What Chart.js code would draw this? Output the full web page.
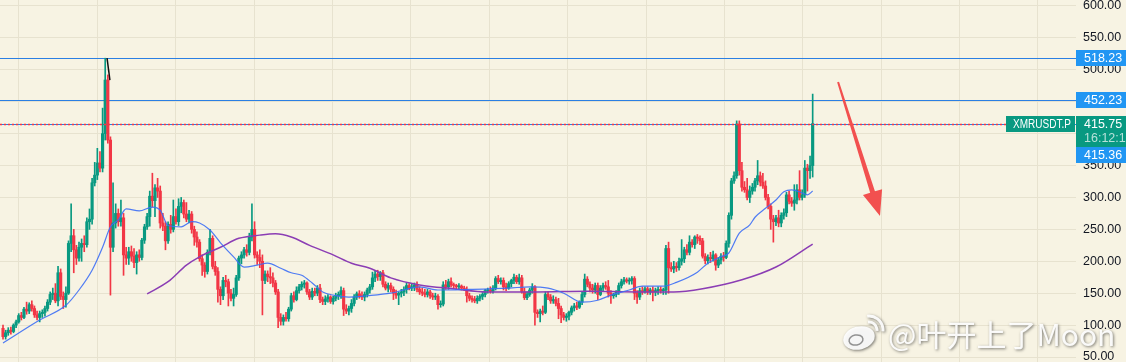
<!DOCTYPE html>
<html>
<head>
<meta charset="utf-8">
<script src="https://cdn.jsdelivr.net/npm/chart.js@4.4.1/dist/chart.umd.min.js"></script>
<style>
  html, body { margin: 0; padding: 0; background: #f7f3e3; }
  #wrap { width: 1126px; height: 362px; }
</style>
</head>
<body>
<div id="wrap"><canvas id="myChart" width="1126" height="362"></canvas></div>
<script>
// XMRUSDT.P daily candles
const candleOpen = [
  95,82,88,92,90,100,105,115,112,125, 122,132,126,116,112,118,120,126,136,148,
  150,138,182,145,140,150,228,240,218,205, 222,228,226,262,266,323,335,354,346,400,
  484,390,222,260,275,262,268,210,205,215, 208,198,210,206,233,254,270,302,295,315,
  310,260,255,232,258,250,270,262,286,292, 274,266,274,250,238,230,204,194,184,214,
  236,192,184,156,146,170,168,150,142,148, 174,205,210,218,214,238,250,210,206,200,
  170,180,176,174,166,152,112,106,112,110, 125,146,140,154,160,164,166,152,144,153,
  150,158,140,137,141,144,137,142,146,148, 154,125,122,126,134,144,149,146,144,148,
  155,160,174,180,176,182,164,158,162,156, 150,147,150,152,156,162,158,160,163,156,
  152,150,148,152,146,144,145,132,133,163, 160,168,163,162,160,161,158,156,146,142,
  140,138,142,145,148,154,155,153,158,173, 168,170,160,158,165,170,175,168,174,152,
  143,148,155,160,120,118,122,120,148,144, 138,140,134,126,116,112,114,120,127,130,
  128,136,148,172,164,158,155,162,148,158, 162,160,150,146,148,152,162,168,171,169,
  170,173,150,144,154,152,157,152,155,152, 154,156,154,155,220,190,188,192,190,200,
  204,218,214,230,226,238,236,232,208,201, 206,204,210,194,202,208,206,228,272,326,
  334,415,342,316,312,300,310,316,326,334, 324,318,300,286,266,262,268,260,272,276,
  304,294,291,296,312,300,304,346,342,350
];
const candleHigh = [
  100,92,96,97,102,108,118,120,128,136, 135,138,130,122,122,124,130,140,152,158,
  165,192,188,152,160,232,290,250,225,230, 235,240,268,282,330,355,377,372,440,518.2,
  492,395,323,290,282,296,275,222,222,224, 220,215,218,236,258,275,310,338,320,330,
  318,275,262,262,272,296,282,298,300,296, 292,280,278,255,246,234,210,198,218,250,
  240,200,190,160,175,178,172,156,158,178, 208,215,222,226,244,290,262,215,218,210,
  185,185,190,182,170,156,118,116,120,128, 150,152,160,164,168,170,168,156,158,158,
  162,164,144,146,148,146,145,150,152,160, 158,132,130,140,148,152,154,152,152,158,
  164,183,185,186,184,186,168,166,166,160, 155,152,156,160,166,165,164,166,168,160,
  158,156,156,155,150,150,148,138,168,170, 172,174,166,164,165,163,161,160,150,146,
  145,146,148,151,156,158,160,162,176,178, 174,174,166,168,172,180,178,180,178,158,
  152,158,165,162,124,125,130,152,152,148, 146,144,142,130,120,118,122,130,134,136,
  138,152,180,176,168,164,166,166,162,166, 168,170,154,150,154,166,172,175,174,174,
  176,176,154,158,160,160,160,158,160,158, 160,160,158,225,230,198,200,198,205,234,
  222,226,240,234,240,242,240,236,212,210, 214,216,212,206,212,214,232,276,330,340,
  420,420,355,325,330,318,322,330,358,340, 338,326,305,290,272,272,280,276,282,308,
  310,300,320,320,342,312,358,352,365,462
];
const candleLow = [
  78,78,84,86,88,96,103,108,110,117, 118,122,112,108,105,112,114,122,132,140,
  135,130,140,126,128,148,215,182,195,200, 200,215,222,250,258,318,328,340,340,390,
  385,147,215,252,255,255,178,195,195,200, 190,180,200,202,228,250,255,285,270,300,
  252,248,218,228,244,246,258,256,276,268, 262,260,244,225,222,200,178,175,180,210,
  188,178,136,132,140,160,130,138,130,145, 170,196,205,208,210,232,205,195,190,116,
  165,168,165,160,148,96,100,100,106,106, 122,136,138,150,155,158,148,140,140,146,
  146,135,132,132,136,134,133,138,140,142, 115,118,116,120,130,140,142,140,138,144,
  150,156,168,170,170,160,155,152,152,140, 142,132,144,146,150,155,154,154,152,148,
  146,144,144,142,140,140,125,128,130,156, 156,160,158,156,156,155,154,136,138,136,
  135,134,138,140,144,150,150,150,155,165, 164,155,154,156,160,165,165,164,150,140,
  140,145,150,100,112,105,116,118,140,134, 134,130,110,104,108,106,108,116,122,124,
  126,132,144,160,152,150,150,140,146,154, 156,144,134,142,144,148,158,164,166,164,
  164,140,134,140,148,150,148,148,138,146, 148,150,148,148,150,184,182,184,186,194,
  198,210,210,222,220,228,226,205,196,196, 198,200,186,190,196,200,204,222,266,322,
  330,335,310,308,296,292,305,310,320,318, 314,296,282,250,230,256,254,254,266,270,
  290,286,280,290,296,296,300,310,330,332
];
const candleClose = [
  82,88,92,90,100,105,115,112,125,122, 132,126,116,112,118,120,126,136,148,150,
  138,182,145,140,150,228,240,218,205,222, 228,226,262,266,323,335,354,346,400,484,
  390,222,260,275,262,268,210,205,215,208, 198,210,206,233,254,270,302,295,315,310,
  260,255,232,258,250,270,262,286,292,274, 266,274,250,238,230,204,194,184,214,236,
  192,184,156,146,170,168,150,142,148,174, 205,210,218,214,238,250,210,206,200,170,
  180,176,174,166,152,112,106,112,110,125, 146,140,154,160,164,166,152,144,153,150,
  158,140,137,141,144,137,142,146,148,154, 125,122,126,134,144,149,146,144,148,155,
  160,174,180,176,182,164,158,162,156,150, 147,150,152,156,162,158,160,163,156,152,
  150,148,152,146,144,145,132,133,163,160, 168,163,162,160,161,158,156,146,142,140,
  138,142,145,148,154,155,153,158,173,168, 170,160,158,165,170,175,168,174,152,143,
  148,155,160,120,118,122,120,148,144,138, 140,134,126,116,112,114,120,127,130,128,
  136,148,172,164,158,155,162,148,158,162, 160,150,146,148,152,162,168,171,169,170,
  173,150,144,154,152,157,152,155,152,154, 156,154,155,220,190,188,192,190,200,204,
  218,214,230,226,238,236,232,208,201,206, 204,210,194,202,208,206,228,272,326,334,
  415,342,316,312,300,310,316,326,334,324, 318,300,286,266,262,268,260,272,276,304,
  294,291,296,312,300,304,346,342,350,415.75
];

// moving averages as drawn on the chart (candle index, price)
const maFastIdx = [0,14,24,29,34,38,41,44,47,52,57,60,63,68,72,75,79,83,88,92,97,101,106,110,114,118,122,126,132,139,148,159,166,178,193,201,208,214,221,227,232,239,244,252,257,265,269,274,277,281,285,287,291,295,298,301,305,307,309];
const maFastVal = [72,108,131,155,186,222,254,265,282,279,285,280,256,254,262,260,249,229,207,191,194,197,189,182,178,166,152,147,144,146,150,160,155,156,158,160,158,150,136,139,147,155,161,161,167,183,197,207,213,244,257,269,283,296,309,312,307,304,310];
const maSlowIdx = [55,63,70,75,83,90,98,104,110,117,126,133,140,148,159,172,185,204,223,242,256,267,282,295,309];
const maSlowVal = [149,168,194,207,222,236,241,243,238,225,210,197,189,174,163,157,152,152,153,152,152,157,171,191,227];

// price levels and labels
const levelLines = [518.23, 452.23];
const bidPrice = 415.36;
const lastPrice = 415.75;
const symbolName = 'XMRUSDT.P';
const countdown = '16:12:10';
const yTicks = [50, 100, 150, 200, 250, 300, 350, 400, 450, 500, 550, 600];
const xGrid = [21, 50.9, 80.8, 110.8, 140.7, 170.6, 200.5, 230.4, 260.4, 290.3, 320.2, 350.1, 380];
const arrowFrom = { i: 318.7, v: 481 };
const arrowTo = { i: 334.7, v: 271 };
const watermark = '@叶开上了Moon';

const upColor = '#089981';
const downColor = '#f23645';
const gridColor = '#e7e2cf';
const bgColor = '#f7f3e3';

const idx = candleClose.map((_, i) => i);
const candleColors = idx.map(i => candleClose[i] >= candleOpen[i] ? upColor : downColor);

const overlay = {
  id: 'overlay',
  beforeDraw(chart) {
    const ctx = chart.ctx;
    ctx.save();
    ctx.fillStyle = bgColor;
    ctx.fillRect(0, 0, chart.width, chart.height);
    ctx.restore();
  },
  beforeDatasetsDraw(chart) {
    const { ctx, chartArea, scales: { y } } = chart;
    ctx.save();
    ctx.strokeStyle = '#2b7fe3';
    ctx.lineWidth = 1;
    [...levelLines, bidPrice].forEach(v => {
      const py = Math.round(y.getPixelForValue(v)) + 0.5;
      ctx.beginPath();
      ctx.moveTo(chartArea.left, py);
      ctx.lineTo(chartArea.right, py);
      ctx.stroke();
    });
    ctx.restore();
  },
  afterDatasetsDraw(chart) {
    const { ctx, chartArea, scales: { x, y } } = chart;
    ctx.save();
    // last price dotted line
    const py = Math.round(y.getPixelForValue(lastPrice)) + 0.5;
    ctx.strokeStyle = '#f23645';
    ctx.setLineDash([2, 2]);
    ctx.lineWidth = 1.6;
    ctx.beginPath();
    ctx.moveTo(chartArea.left, py);
    ctx.lineTo(chartArea.right - 70, py);
    ctx.stroke();
    ctx.setLineDash([]);

    // small black mark at the top candle
    ctx.strokeStyle = '#111';
    ctx.lineWidth = 1.5;
    ctx.beginPath();
    ctx.moveTo(x.getPixelForValue(39.7), y.getPixelForValue(518.2));
    ctx.lineTo(x.getPixelForValue(40.8), y.getPixelForValue(484));
    ctx.stroke();

    // red arrow
    const x0 = x.getPixelForValue(arrowFrom.i), y0 = y.getPixelForValue(arrowFrom.v);
    const x1 = x.getPixelForValue(arrowTo.i), y1 = y.getPixelForValue(arrowTo.v);
    const len = Math.hypot(x1 - x0, y1 - y0);
    const ux = (x1 - x0) / len, uy = (y1 - y0) / len;
    const nx = -uy, ny = ux;
    const headLen = 25, headHalf = 10;
    const bx = x1 - ux * headLen, by = y1 - uy * headLen;
    ctx.fillStyle = '#f2504f';
    ctx.beginPath();
    ctx.moveTo(x0 + nx * 1, y0 + ny * 1);
    ctx.lineTo(bx + nx * 2.5, by + ny * 2.5);
    ctx.lineTo(bx + nx * headHalf, by + ny * headHalf);
    ctx.lineTo(x1, y1);
    ctx.lineTo(bx - nx * headHalf, by - ny * headHalf);
    ctx.lineTo(bx - nx * 2.5, by - ny * 2.5);
    ctx.lineTo(x0 - nx * 1, y0 - ny * 1);
    ctx.closePath();
    ctx.fill();
    ctx.restore();
  },
  afterDraw(chart) {
    const { ctx, chartArea, scales: { y } } = chart;
    const ax = chartArea.right;
    ctx.save();
    ctx.font = '12.5px "Liberation Sans", Arial, sans-serif';
    ctx.textBaseline = 'middle';
    ctx.textAlign = 'left';

    function tag(text, yc, bg) {
      ctx.fillStyle = bg;
      ctx.fillRect(ax, Math.round(yc - 8), 50, 16);
      ctx.fillStyle = '#fff';
      ctx.fillText(text, ax + 8, yc + 0.5);
    }
    levelLines.forEach(v => tag(v.toFixed(2), y.getPixelForValue(v), '#2196f3'));

    // last price block (price + countdown)
    const ly = y.getPixelForValue(lastPrice);
    ctx.fillStyle = upColor;
    ctx.fillRect(ax, Math.round(ly - 8), 50, 31);
    ctx.fillStyle = '#fff';
    ctx.fillText(lastPrice.toFixed(2), ax + 8, ly + 1);
    ctx.fillStyle = 'rgba(255,255,255,0.7)';
    ctx.fillText(countdown, ax + 8, ly + 15);
    tag(bidPrice.toFixed(2), ly + 31, '#2196f3');

    // symbol label
    ctx.fillStyle = upColor;
    ctx.fillRect(ax - 70, Math.round(ly - 8), 69, 16);
    ctx.fillStyle = '#fff';
    ctx.fillText(symbolName, ax - 63, ly + 0.5, 58);

    // weibo watermark
    ctx.shadowColor = 'rgba(0,0,0,0.55)';
    ctx.shadowBlur = 3;
    ctx.shadowOffsetX = 1;
    ctx.shadowOffsetY = 1;
    ctx.fillStyle = 'rgba(255,255,255,0.93)';
    ctx.beginPath();
    ctx.ellipse(859, 338, 16, 11.5, -0.25, 0, Math.PI * 2);
    ctx.fill();
    ctx.strokeStyle = 'rgba(255,255,255,0.93)';
    ctx.lineWidth = 3;
    ctx.beginPath();
    ctx.arc(869, 330, 8, -1.7, 0.1);
    ctx.stroke();
    ctx.beginPath();
    ctx.arc(869, 330, 14, -1.7, 0.1);
    ctx.stroke();
    ctx.shadowColor = 'transparent';
    ctx.strokeStyle = 'rgba(120,120,120,0.8)';
    ctx.lineWidth = 1.5;
    ctx.beginPath();
    ctx.ellipse(856, 340, 7, 5, -0.2, 0, Math.PI * 2);
    ctx.stroke();
    ctx.shadowColor = 'rgba(0,0,0,0.55)';
    ctx.font = '30px "Noto Sans CJK SC", sans-serif';
    ctx.textBaseline = 'alphabetic';
    ctx.fillStyle = 'rgba(255,255,255,0.93)';
    ctx.fillText(watermark, 888, 346);
    ctx.restore();
  }
};

const ctx = document.getElementById('myChart').getContext('2d');
const myChart = new Chart(ctx, {
  type: 'bar',
  data: {
    datasets: [
      {
        type: 'line',
        data: maFastIdx.map((v, k) => ({ x: v, y: maFastVal[k] })),
        borderColor: 'rgba(60,110,245,0.9)',
        borderWidth: 1.2,
        pointRadius: 0,
        cubicInterpolationMode: 'monotone',
        fill: false,
        order: 0
      },
      {
        type: 'line',
        data: maSlowIdx.map((v, k) => ({ x: v, y: maSlowVal[k] })),
        borderColor: '#8b3db4',
        borderWidth: 1.5,
        pointRadius: 0,
        cubicInterpolationMode: 'monotone',
        fill: false,
        order: 0
      },
      {
        data: idx.map(i => ({ x: i, y: [candleOpen[i], candleClose[i]] })),
        backgroundColor: candleColors,
        barThickness: 2.5,
        minBarLength: 1,
        grouped: false,
        order: 1
      },
      {
        data: idx.map(i => ({ x: i, y: [candleLow[i], candleHigh[i]] })),
        backgroundColor: candleColors,
        barThickness: 1,
        grouped: false,
        order: 2
      }
    ]
  },
  options: {
    responsive: false,
    animation: false,
    devicePixelRatio: 1,
    events: [],
    layout: { padding: 0 },
    plugins: { legend: { display: false }, tooltip: { enabled: false } },
    scales: {
      x: {
        type: 'linear',
        min: -1.15,
        max: 409.5,
        offset: false,
        afterBuildTicks: s => { s.ticks = xGrid.map(v => ({ value: v })); },
        ticks: { display: false },
        grid: { color: gridColor, drawTicks: false },
        border: { display: false }
      },
      y: {
        type: 'linear',
        position: 'right',
        min: 42.2,
        max: 609.4,
        afterBuildTicks: s => { s.ticks = yTicks.map(v => ({ value: v })); },
        afterFit: s => { s.width = 50; s.paddingTop = 0; s.paddingBottom = 0; },
        ticks: {
          color: '#131722',
          padding: 7,
          font: { family: '"Liberation Sans", Arial, sans-serif', size: 12.5 },
          callback: v => v.toFixed(2)
        },
        grid: { color: gridColor, drawTicks: false },
        border: { display: false }
      }
    }
  },
  plugins: [overlay]
});
</script>
</body>
</html>
